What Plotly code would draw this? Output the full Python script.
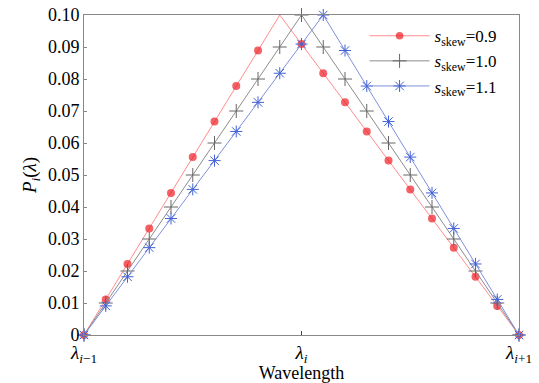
import plotly.graph_objects as go

# x positions (normalised wavelength: -1 = λ_{i-1}, 0 = λ_i, 1 = λ_{i+1})
x_grid = [-1.0, -0.9, -0.8, -0.7, -0.6, -0.5, -0.4, -0.3, -0.2, -0.1, 0.0,
          0.1, 0.2, 0.3, 0.4, 0.5, 0.6, 0.7, 0.8, 0.9, 1.0]

y_s09 = [0, 0.0111, 0.0222, 0.0333, 0.0444, 0.0556, 0.0667, 0.0778, 0.0889, 0.1,
         0.0909, 0.0818, 0.0727, 0.0636, 0.0545, 0.0455, 0.0364, 0.0273, 0.0182, 0.0091, 0]
y_s10 = [0, 0.01, 0.02, 0.03, 0.04, 0.05, 0.06, 0.07, 0.08, 0.09,
         0.10, 0.09, 0.08, 0.07, 0.06, 0.05, 0.04, 0.03, 0.02, 0.01, 0]
y_s11 = [0, 0.0091, 0.0182, 0.0273, 0.0364, 0.0455, 0.0545, 0.0636, 0.0727, 0.0818,
         0.0909, 0.1, 0.0889, 0.0778, 0.0667, 0.0556, 0.0444, 0.0333, 0.0222, 0.0111, 0]
# red series has no marker drawn at its peak vertex
show_s09 = [1, 1, 1, 1, 1, 1, 1, 1, 1, 0, 1, 1, 1, 1, 1, 1, 1, 1, 1, 1, 1]

series_names = ["<i>s</i><sub>skew</sub>=0.9", "<i>s</i><sub>skew</sub>=1.0",
                "<i>s</i><sub>skew</sub>=1.1"]

y_tickvals = [0, 0.01, 0.02, 0.03, 0.04, 0.05, 0.06, 0.07, 0.08, 0.09, 0.10]
y_ticktext = ["0", "0.01", "0.02", "0.03", "0.04", "0.05", "0.06", "0.07", "0.08", "0.09", "0.10"]
x_tickvals = [-1, 0, 1]
x_ticktext = ["<i>λ</i><sub><i>i</i>−1</sub>", "<i>λ</i><sub><i>i</i></sub>",
              "<i>λ</i><sub><i>i</i>+1</sub>"]

FONT = "Liberation Serif, Times New Roman, DejaVu Serif, serif"

fig = go.Figure()
fig.add_trace(go.Scatter(
    x=x_grid, y=y_s09, name=series_names[0], mode="lines+markers",
    line=dict(color="#ff8c8c", width=1),
    marker=dict(symbol="circle", size=[8 * s for s in show_s09], color="#ee1c24",
                line=dict(width=0)),
    cliponaxis=False))
fig.add_trace(go.Scatter(
    x=x_grid, y=y_s10, name=series_names[1], mode="lines+markers",
    line=dict(color="#8c8c8c", width=1),
    marker=dict(symbol="cross-thin-open", size=10, color="#666666",
                line=dict(width=1, color="#666666")),
    cliponaxis=False))
fig.add_trace(go.Scatter(
    x=x_grid, y=y_s11, name=series_names[2], mode="lines+markers",
    line=dict(color="#7f8fdc", width=1),
    marker=dict(symbol="asterisk-open", size=10, color="#4363d6",
                line=dict(width=1, color="#4363d6")),
    cliponaxis=False))

fig.update_layout(
    width=539, height=383,
    margin=dict(l=84, r=20, t=15, b=48, autoexpand=False),
    paper_bgcolor="white", plot_bgcolor="white",
    font=dict(family=FONT, size=18, color="black"),
    showlegend=True,
    legend=dict(x=0.645, y=0.99, xanchor="left", yanchor="top",
                bgcolor="rgba(0,0,0,0)", borderwidth=0,
                font=dict(family=FONT, size=17), tracegroupgap=0,
                itemwidth=60),
    xaxis=dict(range=[-1, 1], tickvals=x_tickvals, ticktext=x_ticktext,
               ticks="inside", ticklen=4, tickcolor="#444", automargin=False,
               showline=True, linecolor="#888", linewidth=1, mirror=True,
               showgrid=False, zeroline=False,
               tickfont=dict(family=FONT, size=19),
               title=dict(text="Wavelength", font=dict(family=FONT, size=18), standoff=0)),
    yaxis=dict(range=[0, 0.1], tickvals=y_tickvals, ticktext=y_ticktext,
               ticks="inside", ticklen=3, tickcolor="#888", automargin=False,
               showline=True, linecolor="#888", linewidth=1, mirror=True,
               showgrid=False, zeroline=False,
               tickfont=dict(family=FONT, size=18),
               title=dict(text="<i>P</i><sub><i>i</i></sub>(<i>λ</i>)",
                          font=dict(family=FONT, size=19), standoff=6)),
)

fig.write_html("out.html")
